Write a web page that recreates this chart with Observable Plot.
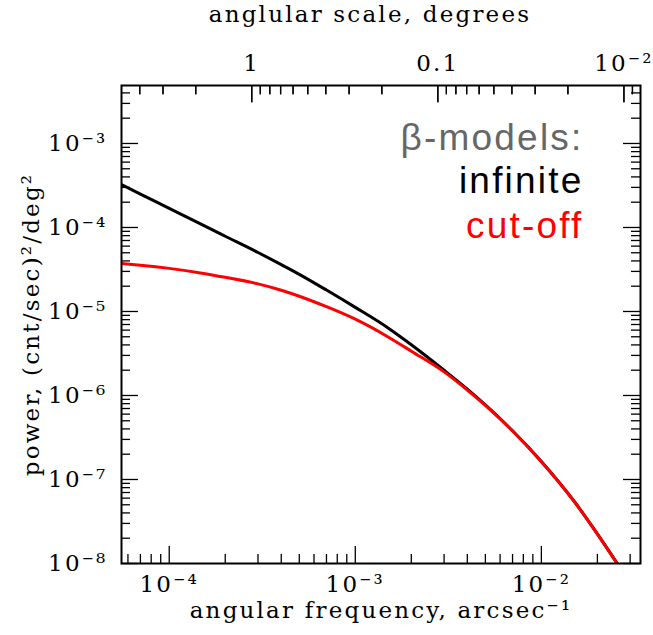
<!DOCTYPE html>
<html>
<head>
<meta charset="utf-8">
<script src="https://cdn.jsdelivr.net/npm/d3@7"></script>
<script src="https://cdn.jsdelivr.net/npm/@observablehq/plot@0.6"></script>
<style>
  body { margin: 0; background: #fff; }
  g[aria-label="legend"] text { letter-spacing: 0; }
</style>
</head>
<body>
<div id="chart"></div>
<script>
// Angular frequency samples (arcsec^-1)
const frequency = [5.54e-5, 7e-5, 1e-4, 1.5e-4, 2e-4, 3e-4, 4e-4, 5e-4, 7e-4, 1e-3,
  1.5e-3, 2e-3, 3e-3, 4e-3, 5e-3, 7e-3, 1e-2, 1.5e-2, 2e-2, 2.55e-2];
// Power spectrum, (cnt/sec)^2/deg^2, for the infinite beta-model
const powerInfinite = [3.24e-4, 2.50e-4, 1.69e-4, 1.08e-4, 7.87e-5, 5.04e-5, 3.61e-5, 2.77e-5, 1.80e-5, 1.12e-5,
  6.37e-6, 4.02e-6, 2.00e-6, 1.19e-6, 7.71e-7, 3.80e-7, 1.64e-7, 5.51e-8, 2.25e-8, 1.01e-8];
// Power spectrum for the cut-off beta-model
const powerCutoff = [3.73e-5, 3.56e-5, 3.26e-5, 2.86e-5, 2.55e-5, 2.13e-5, 1.79e-5, 1.52e-5, 1.14e-5, 8.09e-6,
  4.98e-6, 3.37e-6, 1.91e-6, 1.16e-6, 7.62e-7, 3.78e-7, 1.63e-7, 5.48e-8, 2.24e-8, 1.00e-8];

const modelNames = ["infinite", "cut-off"];
const modelColors = ["#000000", "#ff0000"];
const legendTitle = "β-models:";

// Axis ticks
const xMajor = [1e-4, 1e-3, 1e-2];
const xMinor = [6e-5, 7e-5, 8e-5, 9e-5, 2e-4, 3e-4, 4e-4, 5e-4, 6e-4, 7e-4, 8e-4, 9e-4,
  2e-3, 3e-3, 4e-3, 5e-3, 6e-3, 7e-3, 8e-3, 9e-3, 2e-2, 3e-2];
const yMajor = [1e-8, 1e-7, 1e-6, 1e-5, 1e-4, 1e-3];
const yMinor = [];
for (const e of [-8, -7, -6, -5, -4, -3]) {
  for (const m of [2, 3, 4, 5, 6, 7, 8, 9]) {
    if (e === -3 && m > 4) continue; // beyond the top of the frame
    yMinor.push(m * 10 ** e);
  }
}
const degMajor = [1, 0.1, 0.01];
const degMajorLabels = ["1", "0.1", "10⁻²"];
const degMinor = [4, 3, 2, 0.9, 0.8, 0.7, 0.6, 0.5, 0.4, 0.3, 0.2,
  0.09, 0.08, 0.07, 0.06, 0.05, 0.04, 0.03, 0.02, 0.009];

const xTitle = "angular frequency, arcsec⁻¹";
const topTitle = "anglular scale, degrees";
const yTitle = "power, (cnt/sec)²/deg²";

const xDomain = [5.54e-5, 0.0341];
const yDomain = [1e-8, 4.9e-3];

// angular scale in degrees -> angular frequency in arcsec^-1
const degToFreq = (deg) => 1 / (3600 * deg);

const supDigits = {"-": "⁻", "0": "⁰", "1": "¹", "2": "²", "3": "³", "4": "⁴", "5": "⁵", "6": "⁶", "7": "⁷", "8": "⁸", "9": "⁹"};
const pow10Label = (v) => "10" + String(Math.round(Math.log10(v))).split("").map((c) => supDigits[c]).join("");

const width = 653, height = 635;
const margin = {top: 85, right: 13, bottom: 72, left: 121};
const plotW = width - margin.left - margin.right;
const plotH = height - margin.top - margin.bottom;
const majorLen = 17, minorLen = 9;

const rows = (values) => frequency.map((f, i) => ({f, p: values[i]}));
const degTicks = [
  ...degMajor.map((d) => ({f: degToFreq(d), len: majorLen})),
  ...degMinor.map((d) => ({f: degToFreq(d), len: minorLen}))
];
const degMajorFreq = degMajor.map((d) => degToFreq(d));

const tickStyle = {stroke: "black", strokeWidth: 1.3};
const labelSize = 23;

// Tick ends along the top edge, expressed in y-scale values
let topTickMarks = [];
try {
  const yPixel = Plot.scale({y: {type: "log", domain: yDomain, range: [height - margin.bottom, margin.top]}});
  topTickMarks = [
    Plot.link(degTicks, {x1: "f", x2: "f", y1: () => yDomain[1], y2: (d) => yPixel.invert(margin.top + d.len), ...tickStyle})
  ];
} catch (e) {
  topTickMarks = [];
}

const chart = Plot.plot({
  width, height,
  marginTop: margin.top, marginRight: margin.right, marginBottom: margin.bottom, marginLeft: margin.left,
  style: {fontFamily: "DejaVu Serif", fontSize: "23px", letterSpacing: "2.2px", color: "black", background: "white"},
  x: {type: "log", domain: xDomain},
  y: {type: "log", domain: yDomain},
  marks: [
    // inward ticks on all four sides
    Plot.ruleX(xMajor, {x: (d) => d, insetTop: plotH - majorLen, ...tickStyle}),
    Plot.ruleX(xMinor, {x: (d) => d, insetTop: plotH - minorLen, ...tickStyle}),
    Plot.tickX(degTicks.filter((d) => d.len === majorLen), {x: "f", insetBottom: plotH - majorLen, ...tickStyle}),
    Plot.tickX(degTicks.filter((d) => d.len === minorLen), {x: "f", insetBottom: plotH - minorLen, ...tickStyle}),
    ...topTickMarks,
    Plot.ruleY(yMajor, {y: (d) => d, insetRight: plotW - majorLen, ...tickStyle}),
    Plot.ruleY(yMinor, {y: (d) => d, insetRight: plotW - minorLen, ...tickStyle}),
    Plot.ruleY(yMajor, {y: (d) => d, insetLeft: plotW - majorLen, ...tickStyle}),
    Plot.ruleY(yMinor, {y: (d) => d, insetLeft: plotW - minorLen, ...tickStyle}),

    // tick labels
    Plot.axisX(xMajor, {anchor: "bottom", tickSize: 0, tickPadding: 12, tickFormat: pow10Label, fontSize: labelSize, label: null}),
    Plot.axisY(yMajor, {anchor: "left", tickSize: 0, tickPadding: 14, tickFormat: pow10Label, fontSize: labelSize, label: null}),
    Plot.text(degMajorFreq, {x: (d) => d, text: (d, i) => degMajorLabels[i], frameAnchor: "top",
      textAnchor: "middle", lineAnchor: "bottom", dy: -15, fontSize: labelSize}),

    // axis titles
    Plot.text([xTitle], {frameAnchor: "bottom", text: (d) => d, textAnchor: "middle", lineAnchor: "bottom", dy: 54, fontSize: labelSize}),
    Plot.text([topTitle], {frameAnchor: "top", text: (d) => d, textAnchor: "middle", lineAnchor: "bottom", dy: -64, dx: -11, fontSize: labelSize}),
    Plot.text([yTitle], {frameAnchor: "left", text: (d) => d, rotate: -90, textAnchor: "middle", lineAnchor: "bottom", dx: -83, fontSize: labelSize}),

    // spectra
    Plot.line(rows(powerInfinite), {x: "f", y: "p", stroke: modelColors[0], strokeWidth: 3, curve: "monotone-x", clip: true}),
    Plot.line(rows(powerCutoff), {x: "f", y: "p", stroke: modelColors[1], strokeWidth: 3, curve: "monotone-x", clip: true}),

    // legend
    Plot.text([legendTitle], {frameAnchor: "top-right", text: (d) => d, textAnchor: "end", lineAnchor: "bottom",
      dx: -57, dy: 64, fill: "#666666", fontFamily: "Liberation Sans", fontSize: 37, ariaLabel: "legend"}),
    Plot.text([modelNames[0]], {frameAnchor: "top-right", text: (d) => d, textAnchor: "end", lineAnchor: "bottom",
      dx: -57, dy: 107, fill: modelColors[0], fontFamily: "Liberation Sans", fontSize: 37, ariaLabel: "legend"}),
    Plot.text([modelNames[1]], {frameAnchor: "top-right", text: (d) => d, textAnchor: "end", lineAnchor: "bottom",
      dx: -57, dy: 152, fill: modelColors[1], fontFamily: "Liberation Sans", fontSize: 37, ariaLabel: "legend"}),

    Plot.frame({stroke: "black", strokeWidth: 2})
  ]
});

document.getElementById("chart").append(chart);
</script>
</body>
</html>
